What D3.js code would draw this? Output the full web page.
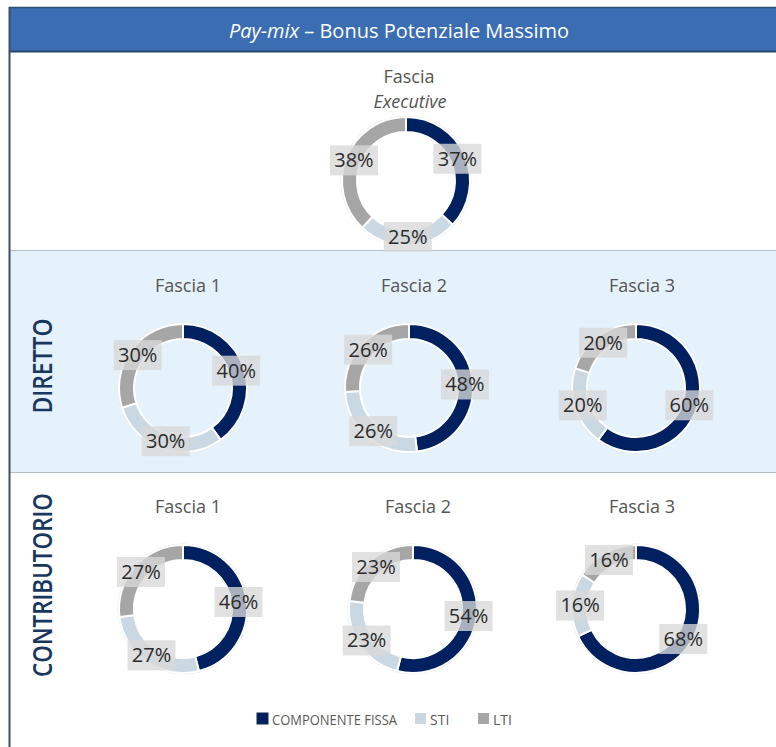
<!DOCTYPE html>
<html><head><meta charset="utf-8">
<script src="https://cdn.jsdelivr.net/npm/d3@7"></script>
<style>
html,body{margin:0;padding:0;background:#fff;}
svg{display:block;font-family:"Open Sans","Noto Sans",sans-serif;}
</style></head>
<body>
<script>
// ---- data ----
const components = ["COMPONENTE FISSA", "STI", "LTI"];
const componentColors = ["#002060", "#c9d8e2", "#a6a6a6"];
const executiveValues = [37, 25, 38];
const direttoValues = [[40, 30, 30], [48, 26, 26], [60, 20, 20]];
const contributorioValues = [[46, 27, 27], [54, 23, 23], [68, 16, 16]];
const fasciaLabels = ["Fascia 1", "Fascia 2", "Fascia 3"];
const sectionLabels = ["DIRETTO", "CONTRIBUTORIO"];
const titleItalic = "Pay-mix";
const titleRest = " – Bonus Potenziale Massimo";

const W = 776, H = 747;
const svg = d3.select("body").append("svg").attr("width", W).attr("height", H);

// backgrounds
svg.append("rect").attr("x", 10).attr("y", 250).attr("width", W - 10).attr("height", 222).attr("fill", "#e5f1fb");
svg.append("line").attr("x1", 10).attr("x2", W).attr("y1", 250.5).attr("y2", 250.5).attr("stroke", "#b4bcc4").attr("stroke-width", 1.2);
svg.append("line").attr("x1", 10).attr("x2", W).attr("y1", 472.5).attr("y2", 472.5).attr("stroke", "#b4bcc4").attr("stroke-width", 1.2);

// header
svg.append("rect").attr("x", 9).attr("y", 7).attr("width", W - 9).attr("height", 45).attr("fill", "#3b6db3");
svg.append("line").attr("x1", 9).attr("x2", W).attr("y1", 7.5).attr("y2", 7.5).attr("stroke", "#2f5178").attr("stroke-width", 1.5);
svg.append("line").attr("x1", 9).attr("x2", W).attr("y1", 51.5).attr("y2", 51.5).attr("stroke", "#24496f").attr("stroke-width", 2);
// left frame
svg.append("line").attr("x1", 9.5).attr("x2", 9.5).attr("y1", 7).attr("y2", H).attr("stroke", "#3f4f63").attr("stroke-width", 2);

const title = svg.append("text").attr("x", 399).attr("y", 38).attr("text-anchor", "middle")
  .attr("fill", "#fff").attr("font-size", 20).attr("font-weight", 500);
title.append("tspan").attr("font-style", "italic").text(titleItalic);
title.append("tspan").text(titleRest);

// section labels
const secY = [366, 585];
const secLen = [95, 184];
sectionLabels.forEach((s, i) => {
  svg.append("text").attr("transform", `translate(52,${secY[i]}) rotate(-90)`)
    .attr("text-anchor", "middle").attr("fill", "#17375e").attr("font-size", 27).attr("font-weight", 600)
    .attr("textLength", secLen[i]).attr("lengthAdjust", "spacingAndGlyphs")
    .text(s);
});

const pie = d3.pie().sort(null).value(d => d);
const rOut = 64, rIn = 49;
const arc = d3.arc().innerRadius(rIn).outerRadius(rOut);
const labelArc = d3.arc().innerRadius(56).outerRadius(56);

function donut(cx, cy, values) {
  const g = svg.append("g").attr("transform", `translate(${cx},${cy})`);
  g.append("circle").attr("r", rOut + 1).attr("fill", "none").attr("stroke", "#e6e6e6").attr("stroke-width", 1);
  const arcs = pie(values);
  g.selectAll("path").data(arcs).join("path")
    .attr("d", arc).attr("fill", (d, i) => componentColors[i])
    .attr("stroke", "#fff").attr("stroke-width", 2);
  const lab = g.selectAll("g.lab").data(arcs).join("g").attr("class", "lab")
    .attr("transform", d => `translate(${labelArc.centroid(d)})`);
  lab.append("rect").attr("x", -24).attr("y", -15).attr("width", 48).attr("height", 30)
    .attr("fill", "#d9d9d9").attr("fill-opacity", 0.78);
  lab.append("text").attr("text-anchor", "middle").attr("y", 7).attr("font-size", 20)
    .attr("fill", "#2b2b2b").text(d => d.data + "%");
}

function heading(cx, y, txt) {
  svg.append("text").attr("x", cx).attr("y", y).attr("text-anchor", "middle")
    .attr("fill", "#555").attr("font-size", 18).text(txt);
}

// executive
svg.append("text").attr("x", 409).attr("y", 83).attr("text-anchor", "middle")
  .attr("fill", "#555").attr("font-size", 18).text("Fascia");
svg.append("text").attr("x", 410).attr("y", 108).attr("text-anchor", "middle")
  .attr("fill", "#555").attr("font-size", 18).attr("font-style", "italic").attr("font-weight", 500).text("Executive");
donut(406, 181, executiveValues);

const colX = [183, 409, 636];
const titleX = [188, 414, 642];
direttoValues.forEach((v, i) => {
  heading(titleX[i], 292, fasciaLabels[i]);
  donut(colX[i], 388, v);
});
const colX2 = [183, 413, 636];
contributorioValues.forEach((v, i) => {
  heading(titleX[i] + (i === 1 ? 4 : 0), 513, fasciaLabels[i]);
  donut(colX2[i], 609, v);
});

// legend
const legX = [257, 415, 478];
components.forEach((c, i) => {
  svg.append("rect").attr("x", legX[i]).attr("y", 713).attr("width", 11).attr("height", 11)
    .attr("fill", componentColors[i]).attr("stroke", i === 0 ? "#0b2a4a" : "none");
  svg.append("text").attr("x", legX[i] + 15).attr("y", 725).attr("fill", "#595959")
    .attr("font-size", 14).attr("textLength", i === 0 ? 125 : null).attr("lengthAdjust", "spacingAndGlyphs").text(c);
});
</script>
</body></html>
